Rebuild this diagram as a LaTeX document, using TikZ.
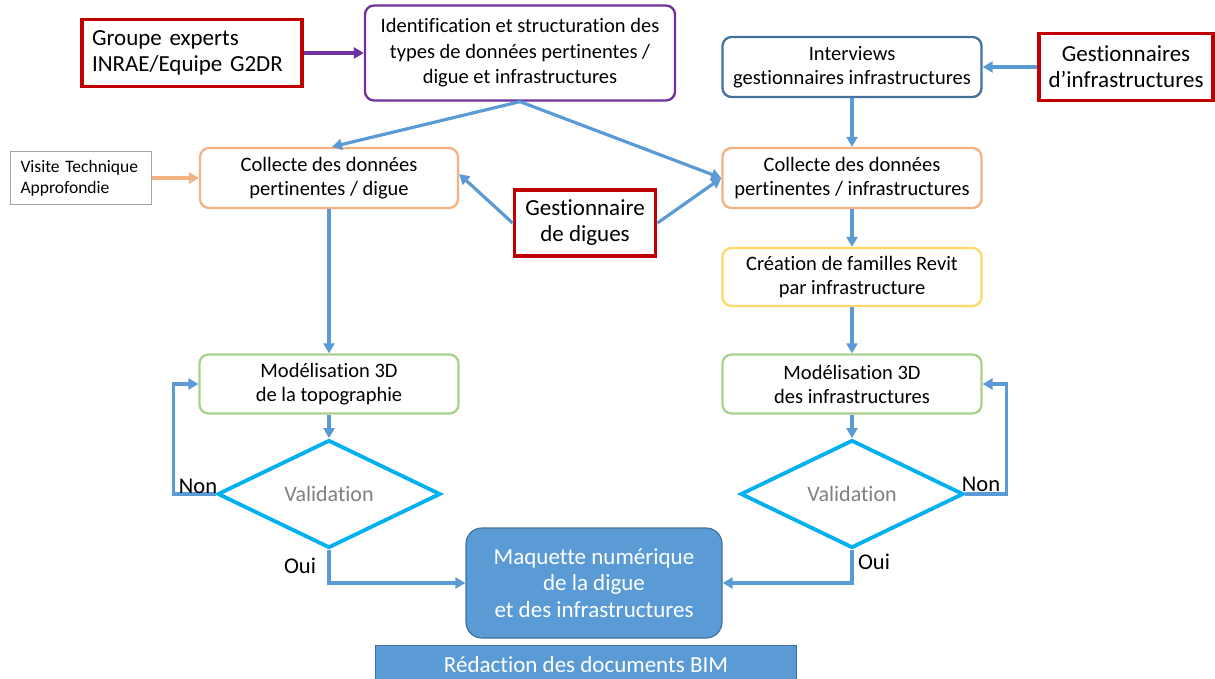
\documentclass[tikz,border=0pt]{standalone}
\usepackage{fontspec}
\setmainfont{Carlito}[Ligatures=NoCommon]
\usetikzlibrary{arrows.meta,shapes.geometric}
\definecolor{rouge}{HTML}{C00000}
\definecolor{violet}{HTML}{7030A0}
\definecolor{bleu}{HTML}{5B9BD5}
\definecolor{bleufonce}{HTML}{41719C}
\definecolor{orange}{HTML}{F4B183}
\definecolor{jaune}{HTML}{FFD966}
\definecolor{vert}{HTML}{A9D18E}
\definecolor{cyan}{HTML}{00B0F0}
\newcommand{\taille}[2]{\fontsize{#1}{#2}\selectfont}
\tikzset{
    boite/.style={draw=#1, rounded corners=9pt, line width=2.3pt,
        align=center, minimum width=259pt, minimum height=60pt,
        inner sep=0pt, font=\taille{20.5}{24}},
    acteur/.style={draw=rouge, line width=3.8pt, align=center,
        inner sep=0pt, font=\taille{23}{26}},
    fleche/.style={line width=3.2pt, draw=#1,
        -{Triangle[length=10pt,width=11pt]}},
    fleche/.default=bleu,
    choix/.style={diamond, draw=cyan, line width=3.8pt, inner sep=0pt,
        minimum width=223pt, minimum height=108pt,
        text=gray, font=\taille{22}{24}},
    mot/.style={font=\taille{22.5}{24}, inner sep=0pt},
    bleuplein/.style={fill=bleu, draw=bleufonce, line width=1.2pt,
        text=white, align=center, inner sep=0pt}
}
\begin{document}
\begin{tikzpicture}[x=1pt,y=-1pt]
    \useasboundingbox (0,0) rectangle (1215,679);
    % acteurs
    \node[acteur, align=left, minimum width=220pt, minimum height=67pt,
        text width=200pt, font=\taille{23}{26}] (experts) at (192,53)
        {Groupe experts\\INRAE/Equipe G2DR};
    \node[acteur, minimum width=174pt, minimum height=67pt] (gestInfra)
        at (1126,67) {Gestionnaires\\d’infrastructures};
    \node[acteur, minimum width=141pt, minimum height=66pt] (gestDigue)
        at (585,223) {Gestionnaire\\de digues};
    \node[draw=gray!70, line width=1pt, minimum width=141pt,
        minimum height=53pt, align=left, text width=121pt, inner sep=0pt,
        font=\taille{17.5}{21}] (visite) at (81,178) {Visite Technique\\Approfondie};
    % etapes
    \node[boite=violet, minimum width=310pt, minimum height=95pt,
        font=\taille{20.5}{25.5}] (identif) at (520,53)
        {Identification et structuration des\\types de données pertinentes /\\digue et infrastructures};
    \node[boite=bleufonce] (interviews) at (852,67)
        {Interviews\\gestionnaires infrastructures};
    \node[boite=orange, minimum width=258pt] (collDigue) at (329,178)
        {Collecte des données\\pertinentes / digue};
    \node[boite=orange] (collInfra) at (852,178)
        {Collecte des données\\pertinentes / infrastructures};
    \node[boite=jaune, minimum height=58pt] (revit) at (852,277)
        {Création de familles Revit\\par infrastructure};
    \node[boite=vert, minimum height=59pt] (modTopo) at (329,384)
        {Modélisation 3D\\de la topographie};
    \node[boite=vert, minimum height=59pt] (modInfra) at (852,384)
        {Modélisation 3D\\des infrastructures};
    \node[choix] (valTopo) at (329,494) {Validation};
    \node[choix] (valInfra) at (852,494) {Validation};
    \node[bleuplein, rounded corners=16pt, minimum width=256pt,
        minimum height=110pt, font=\taille{23}{26.5}] (maquette) at (594,583)
        {Maquette numérique\\de la digue\\et des infrastructures};
    \node[bleuplein, minimum width=421pt, minimum height=46pt,
        anchor=north] (redaction) at (586,645) {};
    \node[text=white, font=\taille{23}{24}] at (586,665) {Rédaction des documents BIM};
    % liens
    \draw[fleche=violet] (experts) -- (identif);
    \draw[fleche] (gestInfra) -- (interviews);
    \draw[fleche=orange] (visite) -- (collDigue);
    \draw[fleche] (identif.south) -- ([xshift=3pt]collDigue.north);
    \draw[fleche] (identif.south) -- (collInfra.west);
    \draw[fleche] (gestDigue.west) -- ([yshift=4pt]collDigue.east);
    \draw[fleche] (gestDigue.east) -- (collInfra.west);
    \draw[fleche] (interviews) -- (collInfra);
    \draw[fleche] (collInfra) -- (revit);
    \draw[fleche] (revit) -- (modInfra);
    \draw[fleche] (collDigue) -- (modTopo);
    \draw[fleche] (modTopo) -- (valTopo);
    \draw[fleche] (modInfra) -- (valInfra);
    \draw[fleche] (valTopo.west) -- ++(-42,0) |- (modTopo.west);
    \draw[fleche] (valInfra.east) -- ++(41,0) |- (modInfra.east);
    \draw[fleche] (valTopo.south) |- (maquette.west);
    \draw[fleche] (valInfra.south) |- (maquette.east);
    \node[mot, anchor=south] at (198,494) {Non};
    \node[mot, anchor=south] at (981,492) {Non};
    \node[mot] at (300,566) {Oui};
    \node[mot] at (874,562) {Oui};
\end{tikzpicture}
\end{document}
